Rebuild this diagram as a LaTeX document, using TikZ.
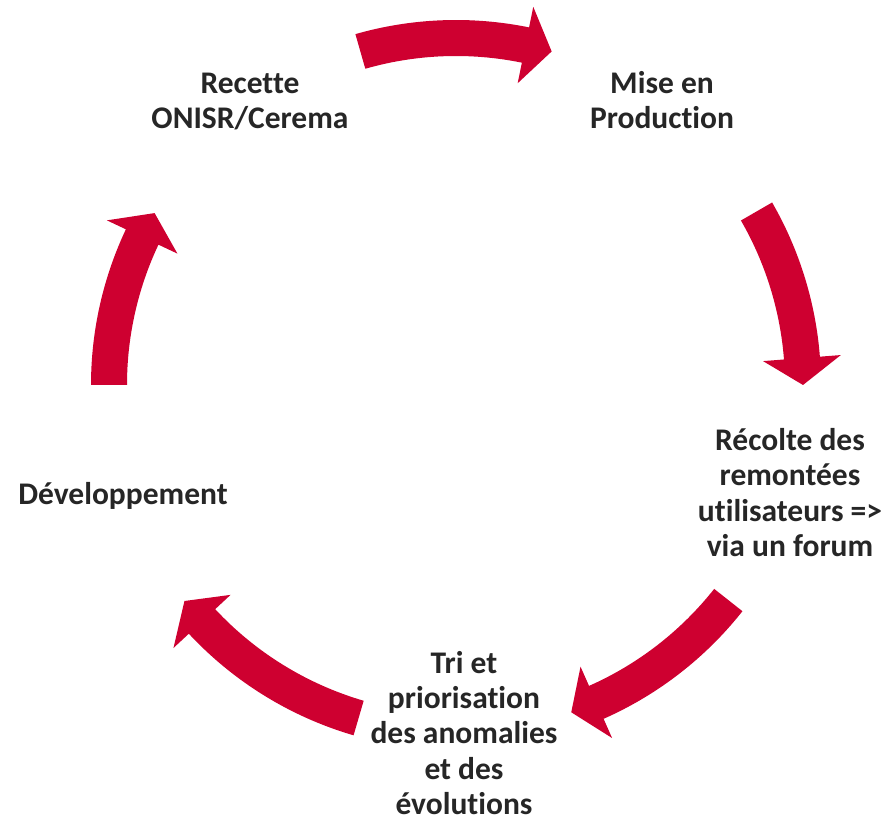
\documentclass[tikz,border=0pt]{standalone}
\usepackage{fontspec}
\setmainfont{Carlito}[Ligatures=NoCommon]
\definecolor{cycred}{RGB}{206,0,48}
\definecolor{txtgray}{RGB}{38,38,38}
\newcommand\cyclearrow[2]{%
  \fill[cycred] (#1:365pt) arc[start angle=#1, end angle=#2+4.45, radius=365pt]
    -- (#2+4.45:386pt) -- (#2:347pt) -- (#2+4.45:308pt) -- (#2+4.45:329pt)
    arc[start angle=#2+4.45, end angle=#1, radius=329pt] -- cycle;}
\tikzset{lbl/.style={font=\bfseries\fontsize{31.5}{35.3}\selectfont, text=txtgray,
  align=center, inner sep=0pt, anchor=base}}
\begin{document}
\begin{tikzpicture}[x=1pt,y=1pt]
\useasboundingbox (0,0) rectangle (885,820);
\begin{scope}[shift={(456,435)}]
  \cyclearrow{106}{74}
  \cyclearrow{30}{0}
  \cyclearrow{-38.3}{-70.6}
  \cyclearrow{-106.3}{-141.5}
  \cyclearrow{180}{150.3}
\end{scope}
% base anchor = baseline of the last line
\node[lbl] (recette) at (250,691) {Recette\\ONISR/Cerema};
\node[lbl] (mise) at (662,691) {Mise en\\Production};
\node[lbl] (recolte) at (790,263.5) {Récolte des\\remontées\\utilisateurs =>\\via un forum};
\node[lbl] (dev) at (123,316) {Développement};
\node[lbl] (tri) at (464,5.5) {Tri et\\priorisation\\des anomalies\\et des\\évolutions};
\end{tikzpicture}
\end{document}
